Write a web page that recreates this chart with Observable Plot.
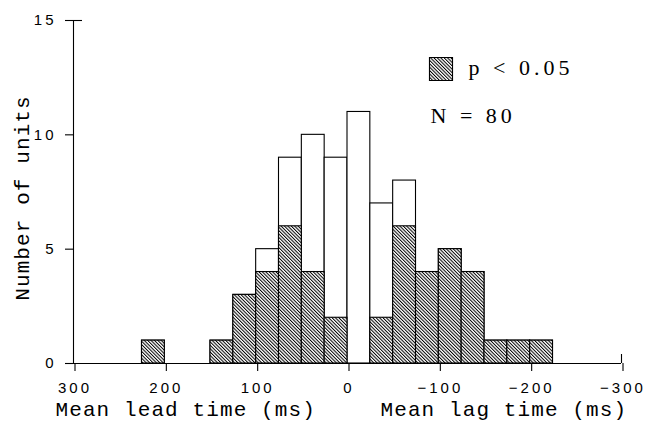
<!DOCTYPE html>
<html>
<head>
<meta charset="utf-8">
<script src="https://cdn.jsdelivr.net/npm/d3@7"></script>
<script src="https://cdn.jsdelivr.net/npm/@observablehq/plot@0.6"></script>
<style>
  html, body { margin: 0; padding: 0; background: white; }
  #chart svg { display: block; }
</style>
</head>
<body>
<div id="chart"></div>
<script>
// Bin lower edges (ms, positive = lead, negative = lag), bin width 25 ms
const binStart = [200, 125, 100, 75, 50, 25, 0, -25, -50, -75, -100, -125, -150, -175, -200, -225];
const binWidth = 25;
const totalUnits = [1, 1, 3, 5, 9, 10, 9, 11, 7, 8, 4, 5, 4, 1, 1, 1];
const sigUnits   = [1, 1, 3, 4, 6, 4, 2, 0, 2, 6, 4, 5, 4, 1, 1, 1];
const xTicks = [300, 200, 100, 0, -100, -200, -300];
const yTicks = [0, 5, 10, 15];
const legendLabel = "p < 0.05";
const countLabel = "N = 80";
const yTitle = "Number of units";
const leadTitle = "Mean lead time (ms)";
const lagTitle = "Mean lag time (ms)";

const rows = binStart.map((s, i) => ({x1: s, x2: s + binWidth, total: totalUnits[i], sig: sigUnits[i]}));

const NS = "http://www.w3.org/2000/svg";
function hatchDefs() {
  const defs = document.createElementNS(NS, "defs");
  const pat = document.createElementNS(NS, "pattern");
  pat.setAttribute("id", "hatch");
  pat.setAttribute("patternUnits", "userSpaceOnUse");
  pat.setAttribute("width", "2.4");
  pat.setAttribute("height", "2.4");
  pat.setAttribute("patternTransform", "rotate(-45)");
  const bg = document.createElementNS(NS, "rect");
  bg.setAttribute("width", "2.4"); bg.setAttribute("height", "2.4"); bg.setAttribute("fill", "white");
  const ln = document.createElementNS(NS, "rect");
  ln.setAttribute("width", "1"); ln.setAttribute("height", "2.4"); ln.setAttribute("fill", "black");
  pat.appendChild(bg); pat.appendChild(ln);
  defs.appendChild(pat);
  return defs;
}

const monoFont = "Liberation Mono, DejaVu Sans Mono, monospace";
const serifFont = "Liberation Serif, DejaVu Serif, serif";

const chart = Plot.plot({
  width: 645,
  height: 427,
  marginLeft: 73,
  marginRight: 24,
  marginTop: 20,
  marginBottom: 64,
  style: {fontFamily: "Liberation Sans, Arial, sans-serif", fontSize: "15px", color: "black", background: "white", overflow: "visible"},
  x: {domain: [300, -300]},
  y: {domain: [0, 15]},
  marks: [
    hatchDefs,
    Plot.rectY(rows, {x1: "x1", x2: "x2", y: "total", fill: "white", stroke: "black", strokeWidth: 1.1}),
    Plot.rectY(rows.filter(d => d.sig > 0), {x1: "x1", x2: "x2", y: "sig", fill: "url(#hatch)", stroke: "black", strokeWidth: 1.1}),
    Plot.ruleY([0], {stroke: "black", strokeWidth: 1.1}),
    Plot.ruleX([xTicks[0]], {stroke: "black", strokeWidth: 1.1}),
    Plot.ruleY([yTicks[yTicks.length - 1]], {x1: xTicks[0], x2: xTicks[0], insetRight: -9, stroke: "black", strokeWidth: 1.1}),
    Plot.ruleX([xTicks[xTicks.length - 1]], {y1: 0, y2: 0, insetTop: -9, stroke: "black", strokeWidth: 1.1}),
    Plot.axisY({ticks: yTicks, tickSize: 8, tickPadding: 9, label: null, strokeWidth: 1.1, fontSize: 15}),
    Plot.axisX({ticks: xTicks, tickSize: 8, tickPadding: 11, label: null, dx: 1.5, strokeWidth: 1.1, fontSize: 15}),
    Plot.text([yTitle], {frameAnchor: "left", textAnchor: "middle", lineAnchor: "middle", rotate: -90, dx: -51, dy: 6, fontFamily: monoFont, fontSize: 21, fill: "black"}),
    Plot.text([leadTitle], {frameAnchor: "bottom-left", textAnchor: "start", dx: -18, dy: 52, fontFamily: monoFont, fontSize: 21, fill: "black"}),
    Plot.text([lagTitle], {frameAnchor: "bottom-left", textAnchor: "start", dx: 307, dy: 52, fontFamily: monoFont, fontSize: 21, fill: "black"}),
    Plot.dot([legendLabel], {frameAnchor: "top-left", dx: 367.5, dy: 48.5, symbol: "square", r: 13, fill: "url(#hatch)", stroke: "black", strokeWidth: 1.1}),
    Plot.text([legendLabel], {frameAnchor: "top-left", textAnchor: "start", lineAnchor: "middle", dx: 395, dy: 47, fontFamily: serifFont, fontSize: 22, fill: "black"}),
    Plot.text([countLabel], {frameAnchor: "top-left", textAnchor: "start", lineAnchor: "middle", dx: 357, dy: 95.5, fontFamily: serifFont, fontSize: 22, fill: "black"})
  ]
});

// letter spacing: Plot has no per-mark option for it, so apply it afterwards
const wide = {[yTitle]: "1.1px", [leadTitle]: "1.1px", [lagTitle]: "1.1px", [legendLabel]: "4px", [countLabel]: "4px"};
d3.select(chart).selectAll("text").each(function() {
  const t = this.textContent;
  this.setAttribute("letter-spacing", wide[t] || "3px");
});
document.getElementById("chart").appendChild(chart);
</script>
</body>
</html>
